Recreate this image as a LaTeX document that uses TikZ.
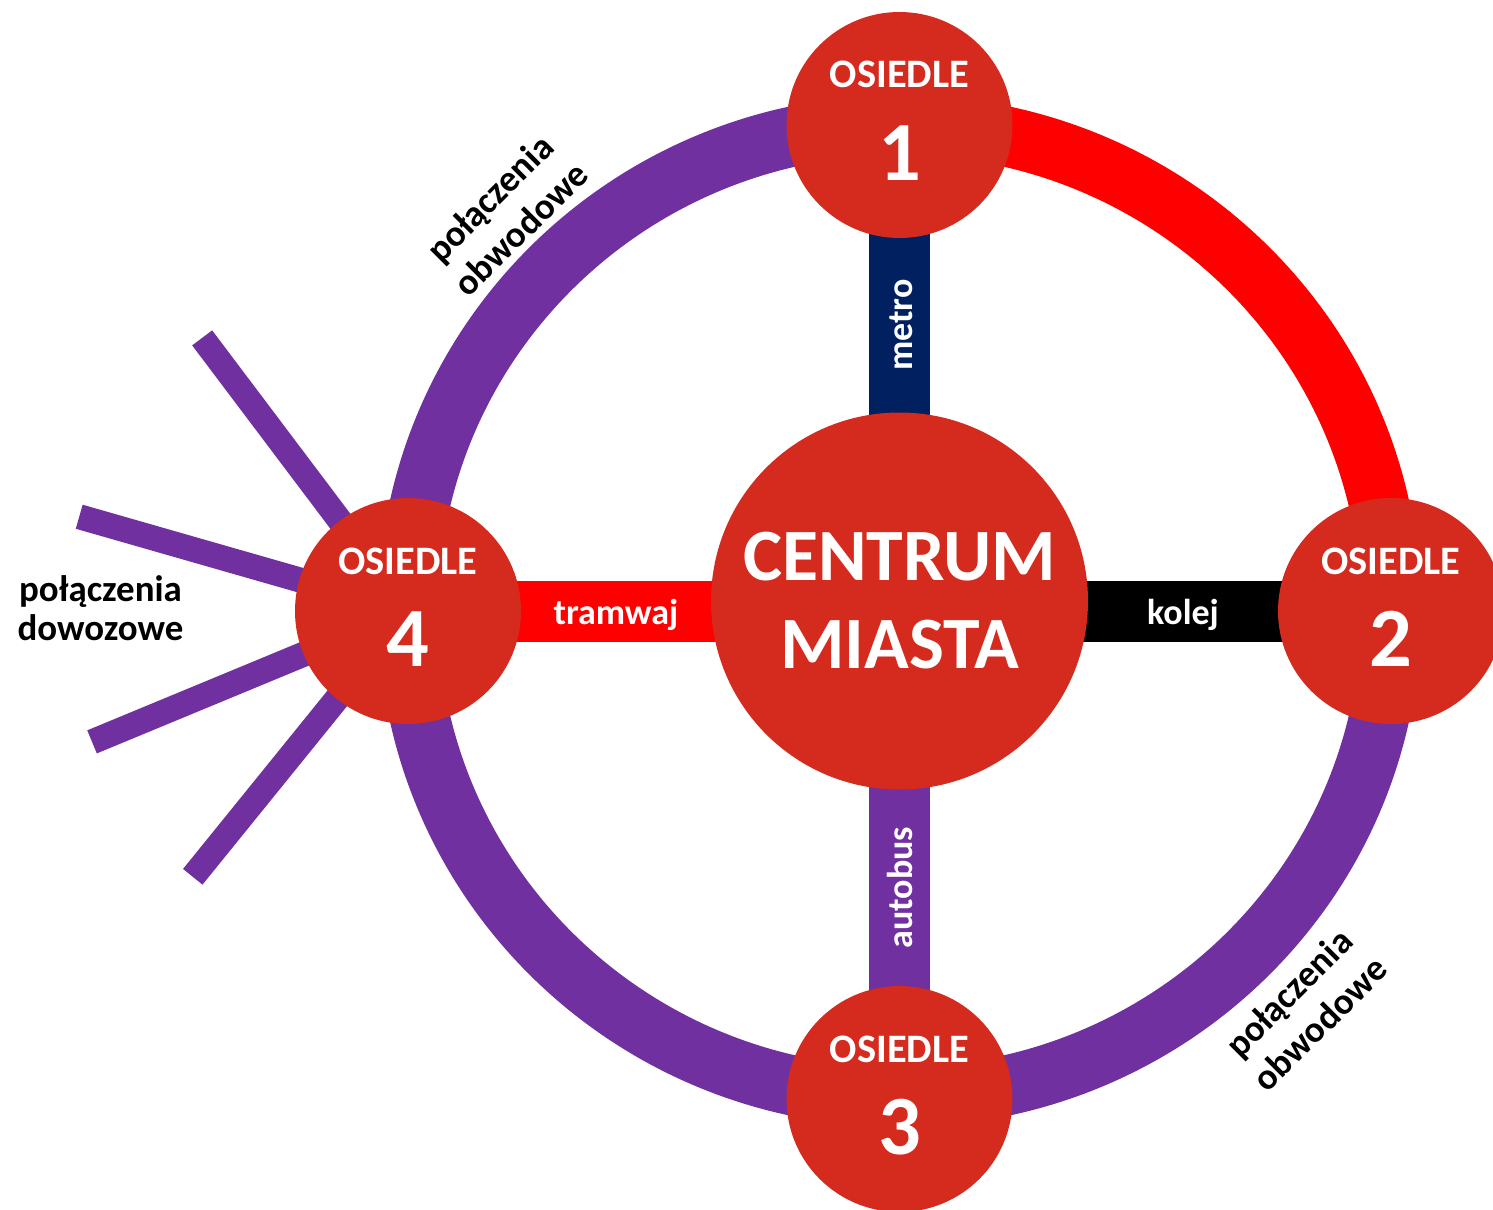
\documentclass[tikz,border=0pt]{standalone}
\usepackage{fontspec}
\setmainfont{Carlito}
\usetikzlibrary{backgrounds}
\definecolor{osred}{RGB}{213,42,30}
\definecolor{linepurple}{RGB}{112,48,160}
\definecolor{linered}{RGB}{255,0,0}
\definecolor{metroblue}{RGB}{0,32,96}
\tikzset{
  osiedle/.style={circle, fill=osred, minimum size=4.52cm, inner sep=0pt},
  centrum/.style={circle, fill=osred, minimum size=7.54cm, inner sep=0pt},
  ostitle/.style={anchor=base, text=white, font=\fontsize{23}{27}\selectfont\bfseries},
  osnum/.style={anchor=base, text=white, font=\fontsize{48}{56}\selectfont\bfseries},
  cmtitle/.style={anchor=base, text=white, font=\fontsize{42}{50}\selectfont\bfseries},
  ring/.style={line width=1.2cm, linepurple},
  spoke/.style={line width=1.22cm, shorten <=-1cm, shorten >=-1cm},
  spokelabel/.style={text=white, inner sep=0pt, text height=14.8pt, text depth=0pt,
    font=\fontsize{20.5}{24}\selectfont\bfseries},
  feeder/.style={line width=0.5cm, linepurple},
  note/.style={align=center, font=\fontsize{21}{22}\selectfont\bfseries},
  ringnote/.style={note, rotate=45, font=\fontsize{21}{25}\selectfont\bfseries}
}

\begin{document}
\begin{tikzpicture}
  \useasboundingbox (-17.99,-11.94) rectangle (11.87,12.24);
  % osiedla i centrum
  \node[centrum] (cm) at (0,0.22) {};
  \node[osiedle] (o1) at (0,9.74) {};
  \node[osiedle] (o2) at (9.83,0.02) {};
  \node[osiedle] (o3) at (0,-9.74) {};
  \node[osiedle] (o4) at (-9.83,0.02) {};
  \foreach \o/\n in {o1/1,o2/2,o3/3,o4/4} {
    \node[ostitle] at ([yshift=0.74cm]\o.center) {OSIEDLE};
    \node[osnum] at ([yshift=-1.1cm]\o.center) {\n};
  }
  \node[cmtitle] at ([yshift=0.42cm]cm.center) {CENTRUM};
  \node[cmtitle] at ([yshift=-1.34cm]cm.center) {MIASTA};

  \begin{pgfonlayer}{background}
    % obwodnica
    \draw[ring, linered] (o2.center) arc[start angle=0, end angle=90, x radius=9.83cm, y radius=9.72cm];
    \draw[ring] (o1.center) arc[start angle=90, end angle=360, x radius=9.83cm, y radius=9.72cm];
    % linie do centrum
    \draw[spoke, metroblue] (o1) -- node[spokelabel, rotate=90] {metro} (cm);
    \draw[spoke, linepurple] (cm) -- node[spokelabel, rotate=90] {autobus} (o3);
    \draw[spoke, linered] (o4) -- node[spokelabel] {tramwaj} (o4 -| cm.west);
    \draw[spoke, black] (o2 -| cm.east) -- node[spokelabel] {kolej} (o2);
    % dowozowe
    \foreach \a [count=\i] in {127,164,202.5,231} {
      \path (o4.center) ++(\a:6.84) coordinate (f\i);
      \draw[feeder] (o4.center) -- (f\i);
    }
  \end{pgfonlayer}

  \node[note] (dowoz) at (-15.98,0.08) {połączenia\\dowozowe};
  \node[ringnote] (obw1) at (-7.89,7.97) {połączenia\\obwodowe};
  \node[ringnote] (obw2) at (8.09,-7.92) {połączenia\\obwodowe};
\end{tikzpicture}
\end{document}
